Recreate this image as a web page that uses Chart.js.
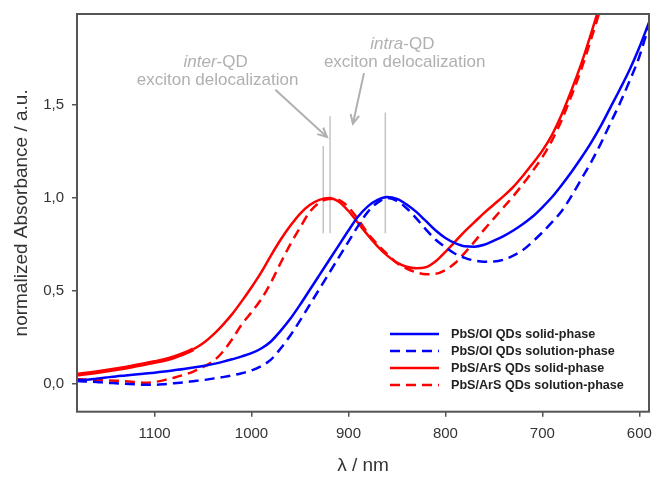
<!DOCTYPE html>
<html><head><meta charset="utf-8">
<script src="https://cdn.jsdelivr.net/npm/chart.js@4.4.1/dist/chart.umd.min.js"></script>
<style>html,body{margin:0;padding:0;background:#fff}#wrap{width:654px;height:477px}</style>
</head><body><div id="wrap"><canvas id="c" width="654" height="477"></canvas></div>
<script>
const wavelengths = [1180,1170,1160,1150,1140,1130,1120,1110,1100,1090,1080,1070,1060,1050,1040,1030,1020,1010,1000,990,980,970,960,950,940,930,920,910,900,890,880,870,860,850,840,830,820,810,800,790,780,770,760,750,740,730,720,710,700,690,680,670,660,650,640,630,620,610,600,590];
const oiSolid = [0.02,0.022,0.028,0.034,0.04,0.045,0.05,0.055,0.06,0.066,0.073,0.08,0.088,0.096,0.106,0.118,0.132,0.148,0.165,0.19,0.228,0.285,0.35,0.425,0.505,0.585,0.665,0.745,0.825,0.9,0.955,0.99,1.005,0.995,0.965,0.925,0.875,0.825,0.785,0.757,0.74,0.738,0.748,0.77,0.795,0.825,0.86,0.9,0.95,1.005,1.07,1.14,1.215,1.295,1.385,1.485,1.585,1.69,1.81,1.945];
const oiSolution = [0.015,0.012,0.01,0.006,0.003,0.0,-0.003,-0.005,-0.005,-0.002,0.003,0.008,0.014,0.02,0.028,0.036,0.045,0.057,0.072,0.095,0.13,0.19,0.26,0.34,0.425,0.51,0.595,0.68,0.765,0.85,0.925,0.975,1.0,0.985,0.945,0.89,0.83,0.775,0.735,0.7,0.678,0.663,0.657,0.658,0.668,0.69,0.72,0.765,0.815,0.87,0.93,1.01,1.1,1.19,1.29,1.4,1.51,1.63,1.76,1.93];
const arsSolid = [0.05,0.055,0.062,0.07,0.078,0.087,0.097,0.107,0.117,0.128,0.143,0.162,0.186,0.218,0.262,0.315,0.375,0.445,0.52,0.6,0.69,0.775,0.85,0.915,0.962,0.99,1.0,0.98,0.93,0.865,0.8,0.74,0.69,0.652,0.63,0.622,0.628,0.66,0.71,0.765,0.82,0.87,0.92,0.965,1.01,1.06,1.12,1.185,1.255,1.34,1.45,1.58,1.72,1.88,2.05,2.23,2.42,2.62,2.83,3.04];
const arsSolution = [0.025,0.022,0.02,0.019,0.017,0.014,0.01,0.006,0.01,0.02,0.033,0.048,0.066,0.09,0.12,0.17,0.24,0.32,0.385,0.455,0.545,0.65,0.75,0.84,0.925,0.975,0.995,0.99,0.95,0.885,0.81,0.75,0.698,0.65,0.62,0.6,0.59,0.592,0.612,0.65,0.705,0.765,0.83,0.89,0.95,1.01,1.075,1.145,1.22,1.31,1.42,1.55,1.69,1.85,2.02,2.2,2.4,2.6,2.8,3.0];
const seriesLabels = ['PbS/OI QDs solid-phase','PbS/OI QDs solution-phase','PbS/ArS QDs solid-phase','PbS/ArS QDs solution-phase'];
const xTicks = [1100,1000,900,800,700,600];
const yTicks = [0,0.5,1.0,1.5];
const markerWl = [926, 919, 862];
const markerBottom = [0.81, 0.81, 0.81];
const markerTop = [1.28, 1.44, 1.46];
</script>
<script>
const FONT = "'Liberation Sans', Arial, Helvetica, sans-serif";
function pts(arr){ return wavelengths.map((w,i)=>({x:w,y:arr[i]})); }
const datasets = [
  {label:seriesLabels[0], data:pts(oiSolid), borderColor:'#0000ff', borderWidth:2.5, inLegend:true},
  {label:seriesLabels[1], data:pts(oiSolution), borderColor:'#0000ff', borderWidth:2.5, borderDash:[10,6], inLegend:true},
  {label:seriesLabels[2], data:pts(arsSolid), borderColor:'#ff0000', borderWidth:2.5, inLegend:true,
    segment:{borderWidth: c => c.p0.parsed.x > 1060 ? 4 : 2.5}},
  {label:seriesLabels[3], data:pts(arsSolution), borderColor:'#ff0000', borderWidth:2.5, borderDash:[10,6], inLegend:true},
];
markerWl.forEach((w,i)=>{
  datasets.push({label:'', data:[{x:w,y:markerBottom[i]},{x:w,y:markerTop[i]}], borderColor:'#c4c4c4', borderWidth:1.5, inLegend:false, order:10});
});
datasets.forEach(d=>{ d.pointRadius=0; d.fill=false; d.cubicInterpolationMode='monotone'; });

const framePlugin = {
  id:'frame',
  afterDatasetsDraw(chart){
    const {ctx, chartArea:a} = chart;
    ctx.save(); ctx.strokeStyle='#555'; ctx.lineWidth=2;
    ctx.strokeRect(a.left, a.top, a.right-a.left, a.bottom-a.top);
    ctx.restore();
  }
};
const legendPlugin = {
  id:'customLegend',
  afterDraw(chart){
    const ctx = chart.ctx;
    const rows = [334, 351, 368, 385];
    let r = 0;
    ctx.save();
    chart.data.datasets.forEach(d=>{
      if(!d.inLegend) return;
      const y = rows[r++];
      ctx.beginPath(); ctx.strokeStyle=d.borderColor; ctx.lineWidth=2.5;
      ctx.setLineDash(d.borderDash||[]);
      ctx.moveTo(390,y); ctx.lineTo(439,y); ctx.stroke();
      ctx.setLineDash([]);
      ctx.fillStyle='#222'; ctx.font='bold 12.6px '+FONT; ctx.textBaseline='middle'; ctx.textAlign='left';
      ctx.fillText(d.label, 451, y+0.5);
    });
    ctx.restore();
  }
};
const notePlugin = {
  id:'notes',
  afterDraw(chart){
    const ctx = chart.ctx, xs = chart.scales.x, ys = chart.scales.y;
    const P = (w,a)=>[xs.getPixelForValue(w), ys.getPixelForValue(a)];
    const col = '#b0b0b0';
    ctx.save();
    ctx.fillStyle = col; ctx.textBaseline='middle';
    function two(italicPart, rest, w, a){
      const [cx, cy] = P(w,a);
      ctx.font = 'italic 17px '+FONT; const w1 = ctx.measureText(italicPart).width;
      ctx.font = '17px '+FONT; const w2 = ctx.measureText(rest).width;
      const x0 = cx - (w1+w2)/2;
      ctx.textAlign='left';
      ctx.font = 'italic 17px '+FONT; ctx.fillText(italicPart, x0, cy);
      ctx.font = '17px '+FONT; ctx.fillText(rest, x0+w1, cy);
    }
    function one(t, w, a){ const [cx,cy]=P(w,a); ctx.font='17px '+FONT; ctx.textAlign='center'; ctx.fillText(t,cx,cy); }
    two('inter','-QD',1037,1.73);
    one('exciton delocalization',1035,1.632);
    two('intra','-QD',844.4,1.826);
    one('exciton delocalization',842,1.732);
    function arrow(w1,a1,w2,a2){
      const [x1,y1]=P(w1,a1), [x2,y2]=P(w2,a2);
      ctx.strokeStyle=col; ctx.lineWidth=2;
      ctx.beginPath(); ctx.moveTo(x1,y1); ctx.lineTo(x2,y2); ctx.stroke();
      const ang=Math.atan2(y2-y1,x2-x1), L=10, s=0.45;
      ctx.beginPath();
      ctx.moveTo(x2-L*Math.cos(ang-s), y2-L*Math.sin(ang-s));
      ctx.lineTo(x2,y2);
      ctx.lineTo(x2-L*Math.cos(ang+s), y2-L*Math.sin(ang+s));
      ctx.stroke();
    }
    arrow(975.4,1.582,922.2,1.328);
    arrow(884,1.672,895.4,1.399);
    ctx.restore();
  }
};

new Chart(document.getElementById('c'), {
  type:'line',
  data:{datasets},
  options:{
    responsive:false, animation:false, devicePixelRatio:1,
    layout:{padding:{top:14,right:5,left:0,bottom:0}},
    plugins:{legend:{display:false}, tooltip:{enabled:false}},
    scales:{
      x:{type:'linear', reverse:true, min:590, max:1180,
        afterBuildTicks:s=>{ s.ticks = xTicks.map(v=>({value:v})); },
        afterFit:s=>{ s.height=65.3; s.paddingLeft=0; s.paddingRight=0; },
        ticks:{font:{family:FONT,size:15}, color:'#333', padding:8, maxRotation:0, autoSkip:false, callback:v=>String(v)},
        grid:{drawOnChartArea:false, drawTicks:true, tickLength:5, color:'#555', lineWidth:1.5},
        border:{display:false},
        title:{display:true, text:'λ / nm', font:{family:FONT,size:19}, color:'#333', padding:{top:0,bottom:0}}
      },
      y:{min:-0.15, max:1.99,
        afterBuildTicks:s=>{ s.ticks = yTicks.map(v=>({value:v})); },
        afterFit:s=>{ s.width=77; s.paddingTop=0; s.paddingBottom=0; },
        ticks:{font:{family:FONT,size:15}, color:'#333', padding:8, callback:v=>v.toFixed(1).replace('.',',')},
        grid:{drawOnChartArea:false, drawTicks:true, tickLength:5, color:'#555', lineWidth:1.5},
        border:{display:false},
        title:{display:true, text:'normalized Absorbance / a.u.', font:{family:FONT,size:19}, color:'#333', padding:{top:10,bottom:0}}
      }
    }
  },
  plugins:[framePlugin, legendPlugin, notePlugin]
});
</script>
</body></html>
